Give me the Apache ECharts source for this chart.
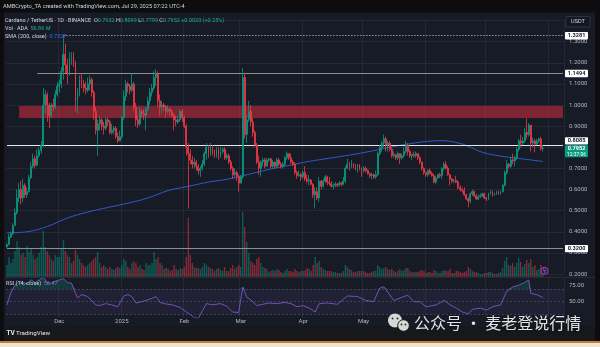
<!DOCTYPE html>
<html><head><meta charset="utf-8">
<script src="https://cdn.jsdelivr.net/npm/echarts@6/dist/echarts.min.js"></script>
<style>html,body{margin:0;padding:0;background:#171b26;overflow:hidden}#c{width:600px;height:347px}</style>
</head><body><div id="c"></div>
<script>
// ---------------- DATA ----------------
const startDate = '2024-11-05';
const totalSlots = 277;           // 267 trading days + empty right margin
const firstOpen = 0.328;
// daily rows: [close, low, high]  (open = previous close)
const nov = [[0.340,0.325,0.345],[0.375,0.335,0.390],[0.390,0.370,0.400],[0.430,0.385,0.440],[0.490,0.430,0.510],[0.560,0.480,0.600],[0.600,0.540,0.630],[0.560,0.530,0.640],[0.620,0.540,0.650],[0.575,0.560,0.630],[0.590,0.560,0.610],[0.655,0.585,0.670],[0.710,0.650,0.730],[0.745,0.700,0.770],[0.715,0.700,0.760],[0.760,0.710,0.790],[0.785,0.750,0.800],[0.810,0.770,0.830],[1.000,0.800,1.080],[1.050,0.960,1.070],[1.000,0.920,1.060],[0.950,0.890,1.010],[1.000,0.940,1.010],[0.990,0.970,1.030],[1.050,0.980,1.070],[1.090,1.040,1.110]];
const dec = [[1.100,1.060,1.120],[1.160,1.080,1.180],[1.240,1.120,1.3281],[1.190,1.150,1.290],[1.150,1.100,1.220],[1.220,1.140,1.250],[1.230,1.190,1.250],[1.200,1.180,1.250],[1.020,0.970,1.210],[1.060,0.960,1.080],[1.120,1.040,1.140],[1.100,1.080,1.150],[1.080,1.060,1.120],[1.070,1.050,1.110],[1.100,1.060,1.130],[1.120,1.070,1.140],[1.060,1.040,1.130],[0.970,0.930,1.070],[0.880,0.860,0.990],[0.910,0.760,0.930],[0.930,0.880,0.950],[0.900,0.880,0.940],[0.890,0.860,0.920],[0.930,0.880,0.940],[0.920,0.900,0.940],[0.870,0.860,0.930],[0.880,0.860,0.910],[0.890,0.860,0.900],[0.850,0.840,0.900],[0.830,0.820,0.870],[0.850,0.830,0.880]];
const jan = [[0.940,0.840,0.950],[1.040,0.930,1.070],[1.100,1.020,1.120],[1.090,1.060,1.110],[1.070,1.050,1.100],[1.100,1.060,1.150],[0.990,0.970,1.110],[0.930,0.900,1.010],[0.910,0.890,0.950],[0.970,0.900,0.990],[0.960,0.940,0.980],[0.950,0.930,0.980],[0.980,0.880,0.990],[1.020,0.970,1.040],[1.060,1.000,1.080],[1.080,1.040,1.100],[1.130,1.070,1.160],[1.150,1.090,1.170],[1.020,0.990,1.160],[0.990,0.950,1.050],[1.000,0.960,1.020],[0.990,0.970,1.010],[0.970,0.940,1.000],[0.980,0.960,1.000],[0.970,0.950,0.990],[0.950,0.940,0.980],[0.930,0.880,0.960],[0.920,0.900,0.950],[0.930,0.910,0.950],[0.970,0.920,0.980],[0.940,0.920,0.980]];
const feb = [[0.900,0.890,0.950],[0.800,0.760,0.910],[0.770,0.510,0.820],[0.740,0.720,0.790],[0.720,0.700,0.760],[0.730,0.700,0.750],[0.710,0.690,0.740],[0.690,0.670,0.720],[0.700,0.660,0.710],[0.720,0.690,0.740],[0.770,0.710,0.780],[0.800,0.740,0.820],[0.770,0.750,0.810],[0.800,0.760,0.820],[0.770,0.760,0.810],[0.760,0.750,0.790],[0.790,0.750,0.800],[0.760,0.740,0.800],[0.780,0.750,0.800],[0.790,0.770,0.800],[0.750,0.740,0.800],[0.760,0.740,0.770],[0.730,0.720,0.770],[0.700,0.690,0.740],[0.670,0.650,0.710],[0.680,0.660,0.700],[0.660,0.640,0.690],[0.630,0.590,0.670]];
const mar = [[0.660,0.630,0.670],[1.130,0.650,1.175],[0.860,0.840,1.150],[0.930,0.820,0.950],[0.970,0.920,1.020],[0.920,0.900,1.000],[0.870,0.850,0.940],[0.810,0.800,0.880],[0.730,0.720,0.820],[0.700,0.670,0.760],[0.730,0.660,0.740],[0.740,0.710,0.750],[0.710,0.700,0.750],[0.740,0.710,0.750],[0.745,0.730,0.750],[0.710,0.700,0.750],[0.730,0.700,0.740],[0.710,0.700,0.730],[0.740,0.700,0.750],[0.720,0.710,0.750],[0.710,0.700,0.730],[0.720,0.700,0.730],[0.750,0.710,0.760],[0.770,0.740,0.780],[0.750,0.740,0.770],[0.730,0.720,0.770],[0.720,0.710,0.740],[0.680,0.670,0.730],[0.665,0.650,0.690],[0.670,0.660,0.690],[0.660,0.640,0.680]];
const apr = [[0.680,0.650,0.690],[0.650,0.640,0.710],[0.640,0.630,0.670],[0.645,0.620,0.670],[0.625,0.620,0.650],[0.575,0.560,0.630],[0.590,0.510,0.610],[0.560,0.550,0.610],[0.640,0.540,0.660],[0.615,0.600,0.645],[0.640,0.610,0.650],[0.660,0.630,0.670],[0.635,0.620,0.665],[0.630,0.620,0.660],[0.615,0.610,0.640],[0.620,0.600,0.630],[0.625,0.610,0.635],[0.620,0.610,0.630],[0.630,0.615,0.640],[0.625,0.615,0.635],[0.640,0.620,0.660],[0.700,0.630,0.710],[0.720,0.700,0.745],[0.710,0.690,0.730],[0.720,0.700,0.740],[0.710,0.700,0.725],[0.705,0.690,0.720],[0.715,0.680,0.720],[0.700,0.690,0.720],[0.690,0.660,0.705]];
const may = [[0.700,0.680,0.710],[0.690,0.680,0.710],[0.675,0.670,0.695],[0.665,0.655,0.680],[0.670,0.650,0.680],[0.660,0.650,0.675],[0.670,0.650,0.690],[0.770,0.665,0.780],[0.800,0.760,0.810],[0.820,0.780,0.830],[0.840,0.800,0.860],[0.810,0.780,0.850],[0.820,0.780,0.830],[0.790,0.780,0.830],[0.760,0.750,0.800],[0.765,0.750,0.780],[0.750,0.740,0.770],[0.770,0.740,0.780],[0.750,0.720,0.770],[0.760,0.740,0.770],[0.780,0.750,0.800],[0.810,0.770,0.830],[0.780,0.760,0.820],[0.760,0.750,0.790],[0.765,0.740,0.770],[0.760,0.750,0.780],[0.770,0.750,0.780],[0.750,0.740,0.770],[0.730,0.720,0.760],[0.700,0.690,0.730],[0.680,0.670,0.705]];
const jun = [[0.670,0.660,0.685],[0.690,0.660,0.695],[0.675,0.670,0.700],[0.665,0.660,0.685],[0.635,0.630,0.675],[0.655,0.625,0.665],[0.670,0.650,0.675],[0.665,0.655,0.680],[0.700,0.650,0.705],[0.720,0.690,0.730],[0.700,0.695,0.735],[0.670,0.665,0.710],[0.650,0.620,0.675],[0.640,0.630,0.655],[0.642,0.630,0.650],[0.635,0.630,0.665],[0.610,0.600,0.645],[0.600,0.590,0.620],[0.595,0.585,0.610],[0.575,0.570,0.610],[0.555,0.550,0.580],[0.545,0.515,0.565],[0.580,0.535,0.585],[0.590,0.570,0.600],[0.570,0.565,0.595],[0.555,0.550,0.580],[0.565,0.550,0.575],[0.570,0.560,0.580],[0.580,0.565,0.585],[0.560,0.555,0.585]];
const jul = [[0.555,0.545,0.565],[0.580,0.550,0.585],[0.590,0.575,0.600],[0.575,0.565,0.595],[0.580,0.570,0.585],[0.590,0.575,0.595],[0.580,0.575,0.595],[0.590,0.575,0.595],[0.620,0.585,0.625],[0.680,0.615,0.690],[0.720,0.670,0.740],[0.710,0.700,0.725],[0.740,0.700,0.755],[0.735,0.720,0.770],[0.750,0.710,0.760],[0.790,0.740,0.800],[0.830,0.780,0.840],[0.820,0.800,0.860],[0.830,0.810,0.850],[0.870,0.820,0.890],[0.860,0.840,0.937],[0.905,0.850,0.915],[0.820,0.780,0.905],[0.830,0.800,0.845],[0.815,0.775,0.840],[0.830,0.810,0.840],[0.840,0.820,0.845],[0.7932,0.785,0.850],[0.7952,0.7799,0.8099]];

// daily volume, million ADA
const volNov = [240,400,280,360,520,720,600,440,480,400,620,500,560,440,360,400,480,600,920,600,520,440,360,320,440,400];
const volDec = [400,560,740,520,440,400,280,320,540,440,360,280,240,200,240,280,320,360,400,500,280,200,240,200,160,200,160,140,180,200,180];
const volJan = [240,360,320,200,160,280,320,280,200,240,160,140,280,240,240,280,500,360,400,280,240,160,180,160,120,140,240,160,140,180,160];
const volFeb = [200,400,1180,440,280,200,180,180,160,200,280,240,200,180,160,120,160,180,140,120,200,120,120,180,240,160,200,240];
const volMar = [200,1300,1000,700,480,320,280,240,360,400,280,200,180,160,100,120,140,120,160,140,100,80,120,160,120,120,100,160,120,100,120];
const volApr = [120,140,180,160,120,240,400,280,320,200,160,140,120,120,120,100,100,80,80,80,120,240,200,160,140,100,100,120,120,120];
const volMay = [120,100,80,80,100,120,120,240,200,160,180,200,160,140,160,120,100,120,160,120,140,180,180,120,100,100,100,100,120,140,120];
const volJun = [80,100,100,80,140,120,80,80,120,140,120,120,160,80,80,120,120,100,80,100,120,200,160,120,100,100,80,60,60,80];
const volJul = [80,100,100,80,60,60,80,100,180,320,400,240,220,280,200,280,380,300,200,260,340,280,360,200,240,140,160,240,56.86];

// SMA(200): day number from start, value
const smaDay   = [0,10,20,30,40,50,60,70,80,90,100,110,120,130,140,150,160,170,180,190,200,210,216,225,230,236,245,255,266];
const smaValue = [0.395,0.400,0.425,0.465,0.493,0.515,0.535,0.560,0.595,0.615,0.635,0.650,0.672,0.695,0.714,0.733,0.748,0.763,0.780,0.800,0.817,0.829,0.831,0.818,0.800,0.776,0.758,0.746,0.7327];

// RSI(14)
const rsiDay   = [0,2,4,6,8,10,12,14,16,18,20,22,24,26,28,30,32,34,35,37,40,42,44,46,49,52,55,58,60,62,64,67,71,74,76,78,82,86,89,91,93,95,97,99,102,106,109,112,115,117,119,121,124,127,130,134,138,141,144,147,150,153,155,159,164,169,174,178,182,185,187,189,192,197,199,202,205,208,213,217,220,223,226,229,231,235,238,241,245,248,251,254,257,259,260,263,265,266];
const rsiValue = [45,65,76,82,80,78,84,80,84,88,80,79,82,84,86,80,79,63,56,61,58,52,45,44,47,45,42,59,61,58,48,50,54,58,49,47,45,41,34,30,25,24,36,47,45,47,43,34,33,73,57,53,44,46,48,47,49,47,42,44,40,34,47,48,46,59,58,52,50,71,73.5,65,52,58,60,50,50,42,45,52,45,40,34,31,38,40,37,42,45,66,73,76,80,84,63,61,58,56.47];

const priceLevels = [1.3281, 1.1494, 0.8085, 0.3200];
const zoneTop = 0.9953, zoneBottom = 0.9385;
const lastPrice = 0.7952;
const tickLabels = ['Dec','2025','Feb','Mar','Apr','May'];
const monthNames = ['Jan','Feb','Mar','Apr','May','Jun','Jul','Aug','Sep','Oct','Nov','Dec'];

// ---------------- BUILD ----------------
const UP = '#089981', DN = '#f23645';
const rows = [].concat(nov, dec, jan, feb, mar, apr, may, jun, jul);
const vols = [].concat(volNov, volDec, volJan, volFeb, volMar, volApr, volMay, volJun, volJul);
const cats = [];
const s0 = Date.UTC(2024, 10, 5);
for (let k = 0; k < totalSlots; k++) cats.push(new Date(s0 + k * 86400000).toISOString().slice(0, 10));
let prev = firstOpen;
const ohlc = rows.map(([c, l, h]) => { const o = prev; prev = c; return [o, c, l, h]; });
const candleData = ohlc.map(v => {
  const col = v[1] >= v[0] ? UP : DN;
  return { value: v, itemStyle: { color: col, color0: col, borderColor: col, borderColor0: col, borderColorDoji: col } };
});
const volData = vols.map((v, i) => ({ value: v, itemStyle: { color: ohlc[i][1] >= ohlc[i][0] ? 'rgba(8,153,129,0.5)' : 'rgba(242,54,69,0.5)' } }));
const smaData = smaDay.map((d, k) => [d, smaValue[k]]);
const rsiData = rsiDay.map((d, k) => [d, rsiValue[k]]);
const obBase = rsiDay.map(d => [d, 70]);
const obFill = rsiDay.map((d, k) => [d, Math.max(rsiValue[k] - 70, 0)]);

function labelOf(d) {
  if (d.slice(8) !== '01') return '';
  const m = +d.slice(5, 7);
  const t = m === 1 ? d.slice(0, 4) : monthNames[m - 1];
  return tickLabels.indexOf(t) >= 0 ? t : '';
}
const isMonthStart = (i, v) => v && v.slice(8) === '01';

const FONT = 'Roboto, "Noto Sans", sans-serif';
const gridLine = { show: true, lineStyle: { color: 'rgba(54,58,72,0.45)', width: 1 } };
const L = 6, R = 36;

const option = {
  backgroundColor: '#171b26',
  animation: false,
  textStyle: { fontFamily: FONT },
  grid: [
    { left: L, right: R, top: 20.5, bottom: 73 },
    { left: L, right: R, top: 205, bottom: 70 },
    { left: L, right: R, top: 277.7, bottom: 29.3 }
  ],
  xAxis: [0, 1, 2].map(g => ({
    type: 'category', gridIndex: g, data: cats, boundaryGap: true,
    axisLine: { show: false }, axisTick: { show: false },
    axisLabel: g === 2 ? {
      show: true, interval: (i, v) => labelOf(v) !== '', formatter: v => labelOf(v),
      color: '#b2b5be', fontSize: 6, margin: 0.5, fontFamily: FONT
    } : { show: false },
    splitLine: g === 1 ? { show: false } : Object.assign({ interval: isMonthStart }, gridLine)
  })),
  yAxis: [
    { gridIndex: 0, position: 'right', min: 0.2, max: 1.4, interval: 0.1, scale: false,
      axisLine: { show: false }, axisTick: { show: false },
      axisLabel: { color: '#b2b5be', fontSize: 6, margin: 5, fontFamily: FONT,
        formatter: v => (Math.abs(v - 1.4) < 1e-6 ? '' : v.toFixed(4)) },
      splitLine: gridLine },
    { gridIndex: 1, min: 0, max: 1440, show: false },
    { gridIndex: 2, position: 'right', min: 25, max: 87.5, interval: 25,
      axisLine: { show: false }, axisTick: { show: false },
      axisLabel: { color: '#b2b5be', fontSize: 6, margin: 5, fontFamily: FONT,
        formatter: v => (Math.abs(v - 50) < 1e-6 || Math.abs(v - 75) < 1e-6) ? v.toFixed(2) : '' },
      splitLine: { show: false } }
  ],
  series: [
    { type: 'bar', xAxisIndex: 1, yAxisIndex: 1, data: volData, barWidth: '72%', z: 1 },
    { type: 'candlestick', xAxisIndex: 0, yAxisIndex: 0, data: candleData, barWidth: 1.4, z: 5,
      itemStyle: { color: UP, color0: DN, borderColor: UP, borderColor0: DN, borderWidth: 0.8 },
      markArea: { silent: true, z: 1, itemStyle: { color: 'rgba(190,44,62,0.62)' },
        data: [[{ xAxis: cats[6], yAxis: zoneTop }, { xAxis: cats[totalSlots - 1], yAxis: zoneBottom }]] },
      markLine: { silent: true, symbol: ['none', 'none'], label: { show: false },
        data: [
          [{ xAxis: cats[28], yAxis: priceLevels[0], lineStyle: { color: '#d1d4dc', type: [1, 2], width: 1 } }, { xAxis: cats[totalSlots - 1], yAxis: priceLevels[0] }],
          [{ xAxis: cats[15], yAxis: priceLevels[1], lineStyle: { color: '#8c8f99', type: 'solid', width: 1 } }, { xAxis: cats[totalSlots - 1], yAxis: priceLevels[1] }],
          [{ xAxis: cats[0], yAxis: priceLevels[2], lineStyle: { color: '#e6e8ee', type: 'solid', width: 1 } }, { xAxis: cats[totalSlots - 1], yAxis: priceLevels[2] }],
          [{ xAxis: cats[0], yAxis: priceLevels[3], lineStyle: { color: '#8c8f99', type: 'solid', width: 1 } }, { xAxis: cats[totalSlots - 1], yAxis: priceLevels[3] }]
        ] } },
    { type: 'line', xAxisIndex: 0, yAxisIndex: 0, data: smaData, smooth: 0.4, showSymbol: false, z: 4,
      lineStyle: { color: '#3158c9', width: 1 } },
    { type: 'line', xAxisIndex: 2, yAxisIndex: 2, data: obBase, stack: 'ob', showSymbol: false,
      lineStyle: { width: 0, opacity: 0 }, z: 2 },
    { type: 'line', xAxisIndex: 2, yAxisIndex: 2, data: obFill, stack: 'ob', showSymbol: false,
      lineStyle: { width: 0, opacity: 0 }, areaStyle: { color: 'rgba(8,153,129,0.35)' }, z: 2 },
    { type: 'line', xAxisIndex: 2, yAxisIndex: 2, data: rsiData, showSymbol: false, z: 3,
      lineStyle: { color: '#7e57c2', width: 0.9 },
      markArea: { silent: true, itemStyle: { color: 'rgba(126,87,194,0.10)' }, data: [[{ yAxis: 30 }, { yAxis: 70 }]] },
      markLine: { silent: true, symbol: ['none', 'none'], label: { show: false },
        lineStyle: { color: 'rgba(120,123,134,0.55)', type: [2, 2], width: 0.7 },
        data: [{ yAxis: 70 }, { yAxis: 50 }, { yAxis: 30 }] } }
  ]
};

const chart = echarts.init(document.getElementById('c'), null, { renderer: 'canvas' });
chart.setOption(option);

// --------------- overlays (labels, header, frame) ---------------
const py = v => chart.convertToPixel({ yAxisIndex: 0 }, v);
const g = [];
function tag(y, text, bg, fg, h) {
  g.push({ type: 'rect', z: 100, shape: { x: 565, y: y - 3.7, width: 23, height: h || 7.4, r: 0.8 }, style: { fill: bg } });
  g.push({ type: 'text', z: 101, x: 576.5, y: y, style: { text: text, fill: fg, font: 'bold 5.6px ' + FONT, textAlign: 'center', textVerticalAlign: 'middle', align: 'center', verticalAlign: 'middle' } });
}
function txt(x, y, text, fill, size, extra) {
  g.push(Object.assign({ type: 'text', z: 110, x: x, y: y, style: Object.assign({ text: text, fill: fill, font: size + 'px ' + FONT, textVerticalAlign: 'middle', verticalAlign: 'middle' }, extra || {}) }));
}
// frame
g.push({ type: 'rect', z: 90, shape: { x: 0, y: 0, width: 600, height: 12.5 }, style: { fill: '#0d0d0f' } });
g.push({ type: 'rect', z: 90, shape: { x: 0, y: 0, width: 4, height: 341 }, style: { fill: '#0d0d0f' } });
g.push({ type: 'rect', z: 90, shape: { x: 595, y: 0, width: 5, height: 341 }, style: { fill: '#0d0d0f' } });
g.push({ type: 'rect', z: 90, shape: { x: 4, y: 326, width: 591, height: 15 }, style: { fill: '#17181c' } });
g.push({ type: 'rect', z: 90, shape: { x: 0, y: 341, width: 600, height: 2 }, style: { fill: '#c27c36' } });
g.push({ type: 'rect', z: 90, shape: { x: 0, y: 343, width: 600, height: 4 }, style: { fill: '#efe4d2' } });
g.push({ type: 'line', z: 90, shape: { x1: 4, y1: 277.3, x2: 595, y2: 277.3 }, style: { stroke: '#2a2e39', lineWidth: 1 } });
// price tags
tag(py(priceLevels[0]), '1.3281', '#ffffff', '#131722');
tag(py(priceLevels[1]), '1.1494', '#ffffff', '#131722');
tag(py(priceLevels[2]) - 4.6, '0.8085', '#ffffff', '#131722');
tag(py(priceLevels[3]), '0.3200', '#ffffff', '#131722');
const yl = py(lastPrice) + 0.5;
g.push({ type: 'rect', z: 100, shape: { x: 565, y: yl - 3.6, width: 23, height: 12, r: 0.8 }, style: { fill: UP } });
txt(576.5, yl, '0.7952', '#ffffff', 5.6, { textAlign: 'center', align: 'center', font: 'bold 5.6px ' + FONT });
txt(576.5, yl + 5.6, '12:37:06', '#ffffff', 5, { textAlign: 'center', align: 'center' });
// USDT box
g.push({ type: 'rect', z: 100, shape: { x: 566, y: 16.5, width: 24, height: 10.5, r: 1 }, style: { fill: '#131722', stroke: '#434651', lineWidth: 0.6 } });
txt(578, 21.8, 'USDT', '#d1d4dc', 5.6, { textAlign: 'center', align: 'center' });
// header
txt(3, 6.3, 'AMBCrypto_TA created with TradingView.com, Jul 29, 2025 07:22 UTC-4', '#d1d4dc', 5.7);
g.push({ type: 'text', z: 110, x: 5, y: 20.5, style: {
  text: '{a|Cardano / TetherUS · 1D · BINANCE  }{a|O}{v|0.7932 }{a|H}{v|0.8099 }{a|L}{v|0.7799 }{a|C}{v|0.7952 }{v|+0.0020 (+0.25%)}',
  font: '5.5px ' + FONT, textVerticalAlign: 'middle', verticalAlign: 'middle',
  rich: { a: { fill: '#d1d4dc', color: '#d1d4dc', fontSize: 5.5, fontFamily: FONT }, v: { fill: '#22ab94', color: '#22ab94', fontSize: 5.5, fontFamily: FONT } } } });
g.push({ type: 'text', z: 110, x: 5, y: 29, style: {
  text: '{a|Vol · ADA  }{v|56.86 M}', font: '5.5px ' + FONT, textVerticalAlign: 'middle', verticalAlign: 'middle',
  rich: { a: { fill: '#d1d4dc', color: '#d1d4dc', fontSize: 5.5, fontFamily: FONT }, v: { fill: '#22ab94', color: '#22ab94', fontSize: 5.5, fontFamily: FONT } } } });
g.push({ type: 'text', z: 110, x: 5, y: 36.8, style: {
  text: '{a|SMA (200, close)  }{v|0.7327}', font: '5.5px ' + FONT, textVerticalAlign: 'middle', verticalAlign: 'middle',
  rich: { a: { fill: '#d1d4dc', color: '#d1d4dc', fontSize: 5.5, fontFamily: FONT }, v: { fill: '#3d6cf0', color: '#3d6cf0', fontSize: 5.5, fontFamily: FONT } } } });
g.push({ type: 'text', z: 110, x: 6, y: 283.5, style: {
  text: '{a|RSI (14, close)  }{v|56.47}', font: '5.5px ' + FONT, textVerticalAlign: 'middle', verticalAlign: 'middle',
  rich: { a: { fill: '#d1d4dc', color: '#d1d4dc', fontSize: 5.5, fontFamily: FONT }, v: { fill: '#8e6fd0', color: '#8e6fd0', fontSize: 5.5, fontFamily: FONT } } } });
// event icon
g.push({ type: 'circle', z: 100, shape: { cx: 544.5, cy: 270.8, r: 3.6 }, style: { fill: '#2a1d3a', stroke: '#a24bd6', lineWidth: 0.9 } });
txt(544.5, 271, 'ϟ', '#c77dff', 5, { textAlign: 'center', align: 'center' });
// TradingView logo
txt(6.5, 333.5, 'TV', '#e8e8e8', 6.5, { font: 'bold 6.5px ' + FONT });
txt(16, 333.5, 'TradingView', '#e8e8e8', 6.2);
// watermark
g.push({ type: 'circle', z: 120, shape: { cx: 395, cy: 320.5, r: 7 }, style: { fill: '#d7d7d7' } });
g.push({ type: 'circle', z: 121, shape: { cx: 403.5, cy: 325.5, r: 5.8 }, style: { fill: '#d7d7d7', stroke: '#17181c', lineWidth: 1 } });
[[392.5, 318.5], [397.5, 318.5], [401.5, 324.5], [405.5, 324.5]].forEach(p =>
  g.push({ type: 'circle', z: 122, shape: { cx: p[0], cy: p[1], r: 0.9 }, style: { fill: '#2a2a2a' } }));
txt(414, 322.5, '公众号 · 麦老登说行情', '#e4e4e4', 16, { font: '16px "Noto Sans CJK SC"', textShadowColor: 'rgba(0,0,0,0.6)', textShadowBlur: 2 });
chart.setOption({ graphic: { elements: g } });
</script>
</body></html>
